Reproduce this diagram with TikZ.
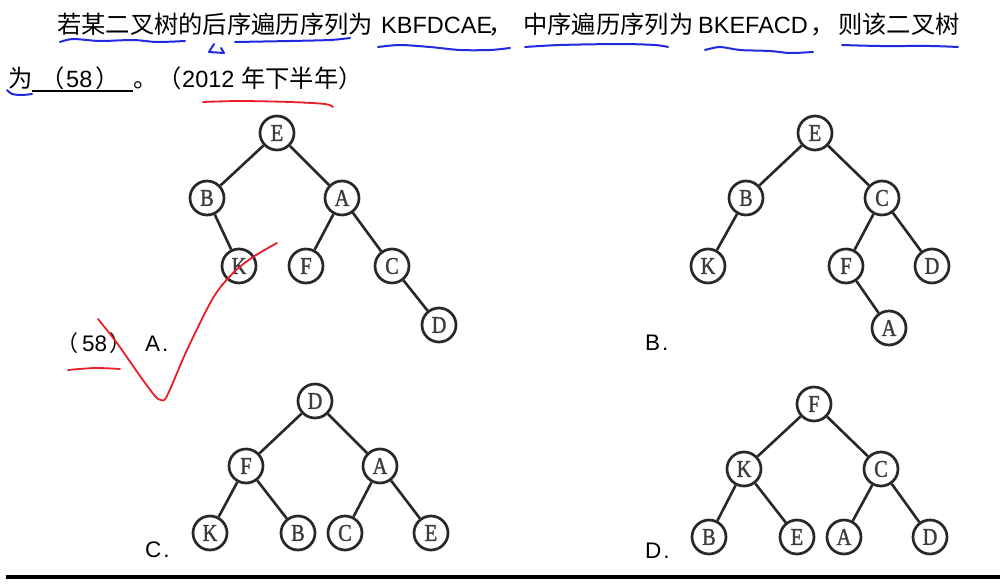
\documentclass[tikz,border=0pt]{standalone}
\usepackage{fontspec}
\setmainfont{Liberation Sans}
\newfontfamily\cjkfont{Noto Sans CJK SC}
\newfontfamily\treeserif[FakeStretch=0.85,FakeBold=1.2]{Liberation Serif}
\definecolor{inkblue}{RGB}{35,40,225}
\definecolor{inkred}{RGB}{232,30,40}
\definecolor{treegray}{RGB}{40,40,40}
\definecolor{lettergray}{RGB}{60,60,60}
\newcommand{\cjkL}{\cjkfont\fontsize{24.3}{24.3}\selectfont}
\newcommand{\latL}{\fontsize{23.5}{23.5}\selectfont}
\newcommand{\cjkS}{\cjkfont\fontsize{22}{22}\selectfont}
\newcommand{\latS}{\fontsize{22.5}{22.5}\selectfont}
\tikzset{
  txt/.style={anchor=base west, inner sep=0pt, text=black},
  tn/.style={circle, draw=treegray, line width=2.7pt, minimum size=34pt, inner sep=0pt, fill=white,
             font=\treeserif\fontsize{24}{24}\selectfont, text=lettergray},
  te/.style={draw=treegray, line width=2.6pt},
  blueink/.style={draw=inkblue, line width=2pt, line cap=round, line join=round},
  redink/.style={draw=inkred, line width=1.8pt, line cap=round, line join=round}
}
\begin{document}
\begin{tikzpicture}[x=1pt,y=-1pt]
\useasboundingbox (0,0) rectangle (1005,586);
\fill[white] (0,0) rectangle (1005,586);
% ---- question text, line 1
\node[txt] (t1) at (57,34) {\cjkL 若某二叉树的后序遍历序列为};
\node[txt] (t2) at (381,34) {\latL KBFDCAE};
\node[txt] (t3) at (488,34) {\cjkL ，};
\node[txt] (t3b) at (523,34) {\cjkL 中序遍历序列为};
\node[txt] (t4) at (698,34) {\latL BKEFACD};
\node[txt] (t5) at (810,34) {\cjkL ，};
\node[txt] (t5b) at (838,34) {\cjkL 则该二叉树};
% ---- line 2
\node[txt] (u1) at (8,88) {\cjkL 为};
\node[txt] (u2) at (40,88) {\cjkL （};
\node[txt] (u3) at (66,88) {\latL 58};
\node[txt] (u4) at (95,88) {\cjkL ）};
\node[txt] (u5) at (133,88) {\cjkL 。（};
\node[txt] (u6) at (182,88) {\latL 2012};
\node[txt] (u7) at (241,88) {\cjkL 年下半年）};
\draw[line width=1.8pt] (32,91) -- (133,91);
% ---- option labels
\node[txt] (l1) at (56,351) {\cjkS （};
\node[txt] (l2) at (82,351) {\latS 58};
\node[txt] (l3) at (109,351) {\cjkS ）};
\node[txt] (la) at (145,351) {\latS A\kern2pt.};
\node[txt] (lb) at (645,350) {\latS B\kern2pt.};
\node[txt] (lc) at (145,557) {\latS C\kern2pt.};
\node[txt] (ld) at (645,558) {\latS D\kern2pt.};
% ---- tree A
\node[tn] (a1) at (277,133) {E};
\node[tn] (a2) at (207,198) {B};
\node[tn] (a3) at (342,198) {A};
\node[tn] (a4) at (239,266) {K};
\node[tn] (a5) at (306,266) {F};
\node[tn] (a6) at (392,266) {C};
\node[tn] (a7) at (439,325) {D};
\draw[te] (a1) -- (a2); \draw[te] (a1) -- (a3); \draw[te] (a2) -- (a4);
\draw[te] (a3) -- (a5); \draw[te] (a3) -- (a6); \draw[te] (a6) -- (a7);
% ---- tree B
\node[tn] (b1) at (815,133) {E};
\node[tn] (b2) at (746,198) {B};
\node[tn] (b3) at (882,198) {C};
\node[tn] (b4) at (708,266) {K};
\node[tn] (b5) at (846,266) {F};
\node[tn] (b6) at (932,266) {D};
\node[tn] (b7) at (889,328) {A};
\draw[te] (b1) -- (b2); \draw[te] (b1) -- (b3); \draw[te] (b2) -- (b4);
\draw[te] (b3) -- (b5); \draw[te] (b3) -- (b6); \draw[te] (b5) -- (b7);
% ---- tree C
\node[tn] (c1) at (315,401) {D};
\node[tn] (c2) at (246,466) {F};
\node[tn] (c3) at (380,466) {A};
\node[tn] (c4) at (210,533) {K};
\node[tn] (c5) at (298,533) {B};
\node[tn] (c6) at (345,533) {C};
\node[tn] (c7) at (431,533) {E};
\draw[te] (c1) -- (c2); \draw[te] (c1) -- (c3); \draw[te] (c2) -- (c4);
\draw[te] (c2) -- (c5); \draw[te] (c3) -- (c6); \draw[te] (c3) -- (c7);
% ---- tree D
\node[tn] (d1) at (814,404) {F};
\node[tn] (d2) at (744,469) {K};
\node[tn] (d3) at (881,469) {C};
\node[tn] (d4) at (709,537) {B};
\node[tn] (d5) at (797,537) {E};
\node[tn] (d6) at (844,537) {A};
\node[tn] (d7) at (930,537) {D};
\draw[te] (d1) -- (d2); \draw[te] (d1) -- (d3); \draw[te] (d2) -- (d4);
\draw[te] (d2) -- (d5); \draw[te] (d3) -- (d6); \draw[te] (d3) -- (d7);
% ---- bottom rule
\draw[line width=3.5pt] (6,577) -- (1000,577);
% ---- blue handwritten marks
\draw[blueink] plot[smooth] coordinates {(60,42) (73,39) (100,41) (133,40) (157,42) (185,41)};
\draw[blueink] (214,44) -- (209,52) -- (224,53) -- (221,48);
\draw[blueink] plot[smooth] coordinates {(235,42) (290,41) (330,40) (350,38)};
\draw[blueink] plot[smooth] coordinates {(378,47) (400,45) (430,47) (460,50) (490,50) (510,48)};
\draw[blueink] plot[smooth] coordinates {(525,47) (560,45) (620,44) (655,45) (668,47)};
\draw[blueink] plot[smooth] coordinates {(705,50) (720,47) (740,50) (770,51) (790,53) (813,52)};
\draw[blueink] plot[smooth] coordinates {(842,45) (880,46) (930,46) (958,47)};
\draw[blueink] plot[smooth] coordinates {(7,90) (12,94) (22,95) (32,94)};
% ---- red handwritten marks
\draw[redink] plot[smooth] coordinates {(203,102) (240,101) (290,102) (325,104) (333,107)};
\draw[redink] plot[smooth] coordinates {(68,370) (95,368) (120,369)};
\draw[redink] plot[smooth, tension=0.5] coordinates {(98,319) (117,343) (140,376) (155,396) (161,400) (167,396) (187,350) (213,298) (233,273) (253,257) (277,243)};
\end{tikzpicture}
\end{document}
